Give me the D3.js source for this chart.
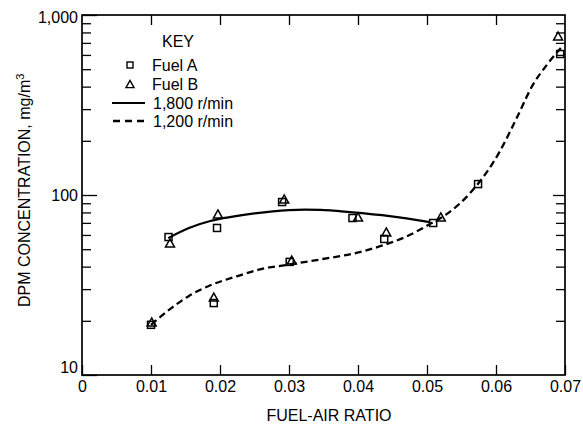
<!DOCTYPE html>
<html>
<head>
<meta charset="utf-8">
<script src="https://cdn.jsdelivr.net/npm/d3@7"></script>
<style>
  body { margin: 0; background: #fff; }
  svg { display: block; font-family: "Liberation Sans", Arial, sans-serif; }
  .axis path.domain { display: none; }
  .axis line { stroke: #000; stroke-width: 1.3; }
  .axis text { font-size: 16px; fill: #000; font-family: "Liberation Sans", Arial, sans-serif; }
</style>
</head>
<body>
<svg id="chart"></svg>
<script>
// measured points, Fuel A (squares)
var fuelAX = [0.0100, 0.01254, 0.0191, 0.01957, 0.0290, 0.0301, 0.0392, 0.0438, 0.0509, 0.0574, 0.0693];
var fuelAY = [19.0, 58.4, 25.1, 65.6, 91.4, 42.5, 74.5, 57.0, 69.9, 115, 607];
// measured points, Fuel B (triangles)
var fuelBX = [0.0101, 0.01275, 0.0191, 0.0197, 0.0293, 0.0304, 0.0400, 0.0441, 0.0520, 0.0690];
var fuelBY = [19.7, 54.1, 27.1, 78.4, 95.0, 43.5, 75.5, 62.3, 75.5, 764];
// fitted curve, 1,800 r/min
var rpm1800X = [0.0125, 0.0155, 0.0186, 0.0250, 0.0300, 0.0345, 0.0388, 0.0446, 0.0504];
var rpm1800Y = [57.6, 65.5, 71.7, 79.0, 82.5, 82.6, 80.3, 76.3, 70.7];
// fitted curve, 1,200 r/min
var rpm1200X = [0.0100, 0.0128, 0.0155, 0.0186, 0.0224, 0.0258, 0.0306, 0.0349, 0.0399, 0.0436, 0.0471, 0.0504, 0.0529, 0.0562, 0.0606, 0.0630, 0.0654, 0.0674, 0.0694];
var rpm1200Y = [19.0, 23.3, 27.5, 31.5, 35.3, 38.6, 41.4, 44.1, 47.8, 52.5, 59.0, 68.9, 78.5, 102, 176, 268, 413, 530, 656];

var xTicks = [0, 0.01, 0.02, 0.03, 0.04, 0.05, 0.06, 0.07];
var xTickLabels = ["0", "0.01", "0.02", "0.03", "0.04", "0.05", "0.06", "0.07"];
var yTicks = [10, 100, 1000];
var yTickLabels = ["10", "100", "1,000"];
var yMinor = [20, 30, 40, 50, 60, 70, 80, 90, 200, 300, 400, 500, 600, 700, 800, 900];

var legendLabels = ["Fuel A", "Fuel B", "1,800 r/min", "1,200 r/min"];

var W = 583, H = 424;
var margin = { top: 15, right: 18, bottom: 49, left: 82 },
  width = W - margin.left - margin.right,
  height = H - margin.top - margin.bottom;

var svg = d3.select("#chart")
  .attr("width", W)
  .attr("height", H);

var g = svg.append("g")
  .attr("transform", "translate(" + margin.left + "," + margin.top + ")");

var x = d3.scaleLinear()
  .domain([0, 0.07])
  .range([0, width]);
var y = d3.scaleLog()
  .domain([10, 1000])
  .range([height, 0]);

// bottom axis, ticks pointing in
g.append("g")
  .attr("class", "x axis")
  .attr("transform", "translate(0," + height + ")")
  .call(d3.axisBottom(x)
    .tickValues(xTicks)
    .tickSizeInner(-10)
    .tickSizeOuter(0)
    .tickPadding(6)
    .tickFormat(function(d, i) { return xTickLabels[i]; }));

// top axis
g.append("g")
  .attr("class", "axis")
  .call(d3.axisTop(x)
    .tickValues(xTicks.slice(1, -1))
    .tickSizeInner(-10)
    .tickSizeOuter(0)
    .tickFormat(""));

// left axis
var yAxis = g.append("g")
  .attr("class", "y axis")
  .call(d3.axisLeft(y)
    .tickValues(yTicks)
    .tickSizeInner(-15)
    .tickSizeOuter(0)
    .tickPadding(4)
    .tickFormat(function(d, i) { return yTickLabels[i]; }));
yAxis.selectAll(".tick text")
  .attr("dy", function(d) { return d === 10 ? "-2.5px" : d === 1000 ? "7.5px" : "5.5px"; });

g.append("g")
  .attr("class", "axis")
  .call(d3.axisLeft(y)
    .tickValues(yMinor)
    .tickSizeInner(-9)
    .tickSizeOuter(0)
    .tickFormat(""));

// right axis
var rightAxis = g.append("g")
  .attr("class", "axis")
  .attr("transform", "translate(" + width + ",0)");
rightAxis.call(d3.axisRight(y)
    .tickValues(yMinor.concat([100]))
    .tickSizeInner(-9)
    .tickSizeOuter(0)
    .tickFormat(""));
rightAxis.selectAll(".tick line")
  .attr("x2", function(d) { return d === 100 ? -12 : -9; });

// frame
g.append("rect")
  .attr("width", width)
  .attr("height", height)
  .attr("fill", "none")
  .attr("stroke", "#000")
  .attr("stroke-width", 1.7);

// curves
var line = d3.line()
  .x(function(d) { return x(d[0]); })
  .y(function(d) { return y(d[1]); })
  .curve(d3.curveCatmullRom.alpha(0.5));
var lineMono = d3.line()
  .x(function(d) { return x(d[0]); })
  .y(function(d) { return y(d[1]); })
  .curve(d3.curveMonotoneX);

g.append("path")
  .datum(d3.zip(rpm1800X, rpm1800Y))
  .attr("d", line)
  .attr("fill", "none")
  .attr("stroke", "#000")
  .attr("stroke-width", 2.2);

g.append("path")
  .datum(d3.zip(rpm1200X, rpm1200Y))
  .attr("d", lineMono)
  .attr("fill", "none")
  .attr("stroke", "#000")
  .attr("stroke-width", 2.3)
  .attr("stroke-dasharray", "7,4");

// markers
var sq = 7;
g.append("g").selectAll("rect")
    .data(d3.zip(fuelAX, fuelAY))
  .enter().append("rect")
    .attr("x", function(d) { return x(d[0]) - sq / 2; })
    .attr("y", function(d) { return y(d[1]) - sq / 2; })
    .attr("width", sq)
    .attr("height", sq)
    .attr("fill", "none")
    .attr("stroke", "#000")
    .attr("stroke-width", 1.5);

function triPath(cx, cy, s) {
  var h = s * 0.9;
  return "M" + cx + "," + (cy - h / 2) + "L" + (cx + s / 2) + "," + (cy + h / 2) + "L" + (cx - s / 2) + "," + (cy + h / 2) + "Z";
}

g.append("g").selectAll("path")
    .data(d3.zip(fuelBX, fuelBY))
  .enter().append("path")
    .attr("d", function(d) { return triPath(x(d[0]), y(d[1]), 9); })
    .attr("fill", "none")
    .attr("stroke", "#000")
    .attr("stroke-width", 1.5);

// key
var key = svg.append("g");
key.append("text")
  .attr("x", 178)
  .attr("y", 47)
  .attr("text-anchor", "middle")
  .style("font-size", "16px")
  .text("KEY");

var rowY = [65, 84, 103, 121];
key.append("rect")
  .attr("x", 130 - 3)
  .attr("y", rowY[0] - 3)
  .attr("width", 6)
  .attr("height", 6)
  .attr("fill", "none")
  .attr("stroke", "#000")
  .attr("stroke-width", 1.4);
key.append("path")
  .attr("d", triPath(130, rowY[1], 8))
  .attr("fill", "none")
  .attr("stroke", "#000")
  .attr("stroke-width", 1.4);
key.append("line")
  .attr("x1", 112).attr("x2", 145)
  .attr("y1", rowY[2]).attr("y2", rowY[2])
  .attr("stroke", "#000")
  .attr("stroke-width", 2.2);
key.append("line")
  .attr("x1", 113).attr("x2", 146)
  .attr("y1", rowY[3]).attr("y2", rowY[3])
  .attr("stroke", "#000")
  .attr("stroke-width", 2.3)
  .attr("stroke-dasharray", "7,5");

key.selectAll("text.lab")
    .data(legendLabels)
  .enter().append("text")
    .attr("class", "lab")
    .attr("x", function(d, i) { return i < 2 ? 152 : 153; })
    .attr("y", function(d, i) { return rowY[i] + 6; })
    .style("font-size", "16px")
    .text(function(d) { return d; });

// axis titles
svg.append("text")
  .attr("x", 329)
  .attr("y", 421)
  .attr("text-anchor", "middle")
  .style("font-size", "16px")
  .text("FUEL-AIR RATIO");

var yl = svg.append("text")
  .attr("transform", "translate(30,307) rotate(-90)")
  .attr("text-anchor", "start")
  .style("font-size", "16px");
yl.append("tspan").text("DPM CONCENTRATION, mg/m");
yl.append("tspan")
  .attr("dy", "-6")
  .style("font-size", "11px")
  .text("3");
</script>
</body>
</html>
